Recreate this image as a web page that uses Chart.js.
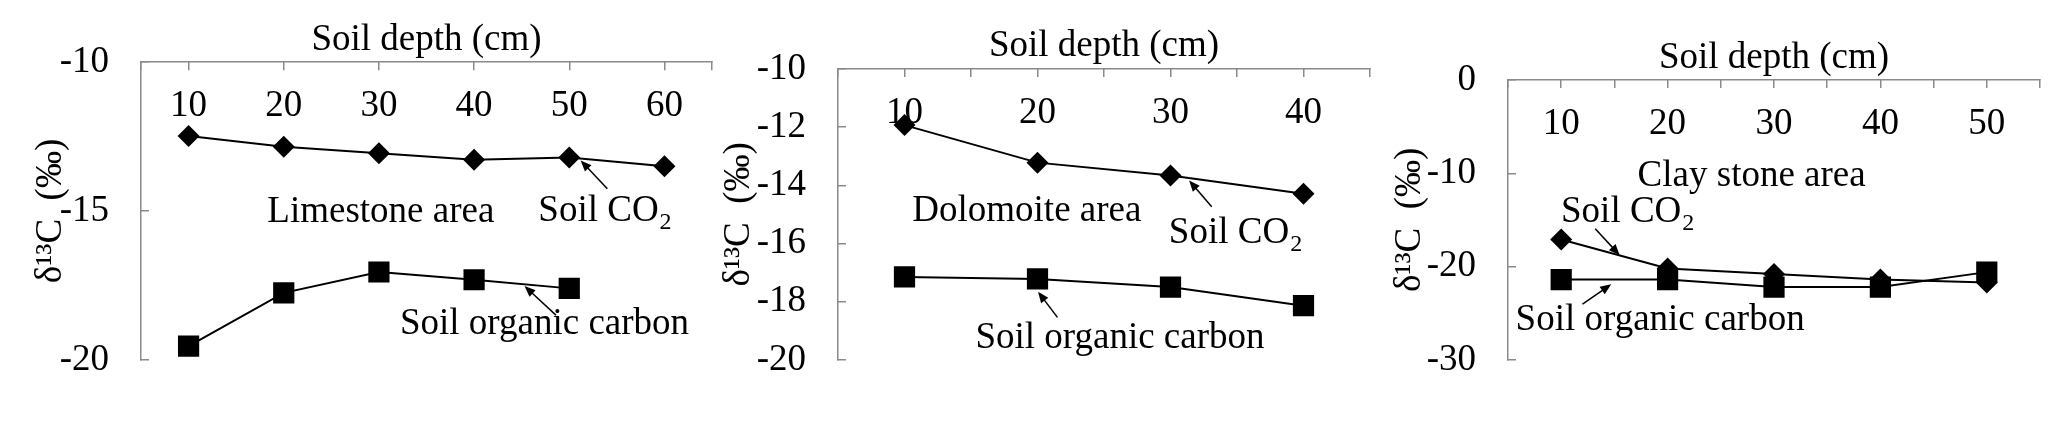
<!DOCTYPE html>
<html>
<head>
<meta charset="utf-8">
<script src="https://cdn.jsdelivr.net/npm/chart.js@4"></script>
<style>
  body { margin: 0; background: #fff; }
  #wrap { position: relative; width: 2067px; height: 422px; overflow: hidden; }
  canvas { position: absolute; top: 0; }
</style>
</head>
<body>
<div id="wrap">
  <canvas id="c1" width="740" height="422" style="left:0px"></canvas>
  <canvas id="c2" width="700" height="422" style="left:700px"></canvas>
  <canvas id="c3" width="687" height="422" style="left:1380px"></canvas>
</div>
<script>
// values (delta 13C, per mil)
const depthLime = [10, 20, 30, 40, 50, 60];
const co2Lime = [-12.48, -12.84, -13.06, -13.28, -13.2, -13.5];
const socLime = [-19.54, -17.75, -17.05, -17.31, -17.6];

const depthDolo = [10, 20, 30, 40];
const co2Dolo = [-11.93, -13.22, -13.66, -14.29];
const socDolo = [-17.15, -17.22, -17.5, -18.14];

const depthClay = [10, 20, 30, 40, 50];
const co2Clay = [-17.1, -20.2, -20.8, -21.4, -21.7];
const socClay = [-21.4, -21.4, -22.2, -22.2, -20.6];

// axis ticks
const xMarksLime = [5, 10, 20, 30, 40, 50, 60, 65];
const xMarksDolo = [5, 10, 15, 20, 25, 30, 35, 40, 45];
const xMarksClay = [5, 10, 15, 20, 25, 30, 35, 40, 45, 50, 55];
const xLabelsAll = [10, 20, 30, 40, 50, 60];
const yTicksLime = [-20, -15, -10];
const yTicksDolo = [-20, -18, -16, -14, -12, -10];
const yTicksClay = [-30, -20, -10, 0];

const FONT = { family: '"Liberation Serif", "Times New Roman", serif', size: 37 };
const AXIS = '#8a8a8a';

function drawArrow(ctx, x1, y1, x2, y2) {
  const a = Math.atan2(y2 - y1, x2 - x1);
  ctx.lineWidth = 1.5;
  ctx.beginPath();
  ctx.moveTo(x1, y1);
  ctx.lineTo(x2 - 8 * Math.cos(a), y2 - 8 * Math.sin(a));
  ctx.stroke();
  ctx.beginPath();
  ctx.moveTo(x2, y2);
  ctx.lineTo(x2 - 11 * Math.cos(a) + 4.5 * Math.sin(a), y2 - 11 * Math.sin(a) - 4.5 * Math.cos(a));
  ctx.lineTo(x2 - 11 * Math.cos(a) - 4.5 * Math.sin(a), y2 - 11 * Math.sin(a) + 4.5 * Math.cos(a));
  ctx.closePath();
  ctx.fill();
}

// text labels and arrows placed in data units
const notes = {
  id: 'notes',
  afterDatasetsDraw(chart, args, opts) {
    const { ctx, scales: { x, y } } = chart;
    const big = FONT.size + 'px ' + FONT.family;
    const small = Math.round(FONT.size * 0.65) + 'px ' + FONT.family;
    ctx.save();
    ctx.fillStyle = '#000';
    ctx.strokeStyle = '#000';
    ctx.textBaseline = 'middle';
    (opts.items || []).forEach(n => {
      if (n.to) {
        drawArrow(ctx, x.getPixelForValue(n.x), y.getPixelForValue(n.y),
          x.getPixelForValue(n.to[0]), y.getPixelForValue(n.to[1]));
        return;
      }
      const px = x.getPixelForValue(n.x), py = y.getPixelForValue(n.y);
      ctx.font = big;
      const w1 = ctx.measureText(n.text).width;
      ctx.font = small;
      const w2 = n.sub ? ctx.measureText(n.sub).width : 0;
      const left = px - (w1 + w2) / 2;
      ctx.font = big;
      ctx.textAlign = 'left';
      ctx.fillText(n.text, left, py);
      if (n.sub) {
        ctx.font = small;
        ctx.fillText(n.sub, left + w1 + 1, py + FONT.size * 0.32);
      }
    });
    ctx.restore();
  }
};

function panel(id, o) {
  const pts = (xs, ys) => ys.map((v, i) => ({ x: xs[i], y: v }));
  return new Chart(document.getElementById(id), {
    type: 'line',
    data: {
      datasets: [
        {
          label: 'Soil CO2',
          data: pts(o.depth, o.co2),
          borderColor: '#000', backgroundColor: '#000', borderWidth: 2,
          pointStyle: 'rectRot', pointRadius: 11, pointBorderWidth: 0, tension: 0
        },
        {
          label: 'Soil organic carbon',
          data: pts(o.depth, o.soc),
          borderColor: '#000', backgroundColor: '#000', borderWidth: 2,
          pointStyle: 'rect', pointRadius: 15, pointBorderWidth: 0, tension: 0
        }
      ]
    },
    options: {
      responsive: false,
      animation: false,
      layout: { padding: { left: 0, top: 0, right: o.padR, bottom: o.padB } },
      plugins: {
        legend: { display: false },
        tooltip: { enabled: false },
        notes: { items: o.notes }
      },
      scales: {
        x: {
          type: 'linear', position: 'top',
          min: o.xMarks[0], max: o.xMarks[o.xMarks.length - 1],
          afterBuildTicks: s => { s.ticks = o.xMarks.map(v => ({ value: v })); },
          afterFit: s => {
            s.height = o.top;
            // labels sit under the axis line, inside the plot: don't clip them to the axis box
            s._computeLabelArea = () => undefined;
          },
          grid: { drawOnChartArea: false, tickLength: -8, color: AXIS, lineWidth: 1.5 },
          border: { color: AXIS, width: 1.5 },
          ticks: {
            autoSkip: false, maxRotation: 0, padding: -58, color: '#000', font: FONT,
            callback: v => xLabelsAll.includes(v) ? String(v) : ''
          },
          title: { display: true, text: 'Soil depth (cm)', color: '#000', font: FONT, padding: { top: o.xtPad, bottom: 0 } }
        },
        y: {
          min: o.yTicks[0], max: o.yTicks[o.yTicks.length - 1],
          afterBuildTicks: s => { s.ticks = o.yTicks.map(v => ({ value: v })); },
          afterFit: s => { s.width = o.left; },
          grid: { drawOnChartArea: false, tickLength: -8, color: AXIS, lineWidth: 1.5 },
          border: { color: AXIS, width: 1.5 },
          ticks: { padding: 40, color: '#000', font: FONT, callback: v => String(v) },
          title: { display: true, text: 'δ¹³C  (‰)', color: '#000', font: FONT, padding: { top: o.ytPad, bottom: 0 } }
        }
      }
    },
    plugins: [notes]
  });
}

panel('c1', {
  depth: depthLime, co2: co2Lime, soc: socLime,
  xMarks: xMarksLime, yTicks: yTicksLime,
  left: 141, top: 62, padR: 28, padB: 54, xtPad: 18, ytPad: 29,
  notes: [
    { text: 'Limestone area', x: 30.2, y: -15.03 },
    { text: 'Soil CO', sub: '2', x: 53.7, y: -15.0 },
    { x: 54.0, y: -14.25, to: [51.2, -13.3] },
    { text: 'Soil organic carbon', x: 47.4, y: -18.82 },
    { x: 48.6, y: -18.5, to: [45.3, -17.52] }
  ]
});

panel('c2', {
  depth: depthDolo, co2: co2Dolo, soc: socDolo,
  xMarks: xMarksDolo, yTicks: yTicksDolo,
  left: 138, top: 69, padR: 30, padB: 45, xtPad: 24, ytPad: 17,
  notes: [
    { text: 'Dolomoite area', x: 19.2, y: -14.9 },
    { text: 'Soil CO', sub: '2', x: 34.85, y: -15.65 },
    { x: 33.1, y: -14.74, to: [31.4, -13.83] },
    { text: 'Soil organic carbon', x: 26.2, y: -19.25 },
    { x: 21.5, y: -18.54, to: [20.04, -17.66] }
  ]
});

panel('c3', {
  depth: depthClay, co2: co2Clay, soc: socClay,
  xMarks: xMarksClay, yTicks: yTicksClay,
  left: 128, top: 80, padR: 27, padB: 45, xtPad: 36, ytPad: 8,
  notes: [
    { text: 'Clay stone area', x: 27.9, y: -10.3 },
    { text: 'Soil CO', sub: '2', x: 16.2, y: -14.14 },
    { x: 13.2, y: -15.96, to: [15.5, -18.79] },
    { text: 'Soil organic carbon', x: 19.3, y: -25.76 },
    { x: 12.0, y: -24.04, to: [14.7, -21.9] }
  ]
});
</script>
</body>
</html>
